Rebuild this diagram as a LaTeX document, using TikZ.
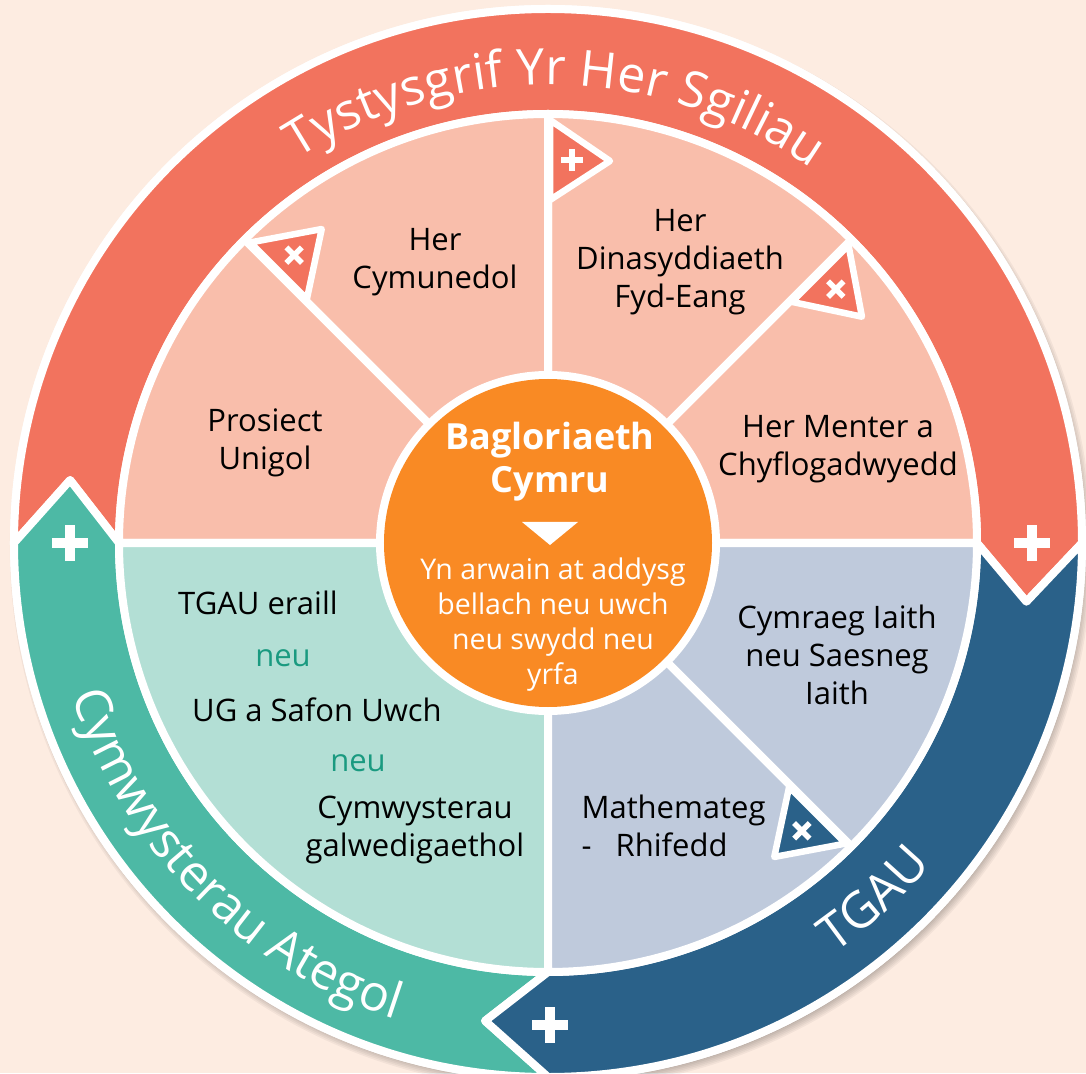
\documentclass[tikz,border=0pt]{standalone}
\usepackage{fontspec}
\setmainfont{Open Sans}
\usepackage{tikz}
\usetikzlibrary{decorations.text}
\definecolor{bgpeach}{RGB}{253,236,225}
\definecolor{bandcoral}{RGB}{242,115,94}
\definecolor{bandteal}{RGB}{77,185,165}
\definecolor{bandblue}{RGB}{42,97,137}
\definecolor{segcoral}{RGB}{249,190,171}
\definecolor{segteal}{RGB}{179,223,213}
\definecolor{segblue}{RGB}{191,202,220}
\definecolor{corange}{RGB}{249,138,36}
\definecolor{neuteal}{RGB}{26,154,128}

\begin{document}
\begin{tikzpicture}[x=1pt,y=1pt,line join=round,
  band/.style={draw=white,line width=8pt},
  seg/.style={draw=white,line width=8pt},
  flag/.style={draw=white,line width=6.5pt,line join=round},
  plusmark/.style={white,line width=10pt},
  lab/.style={font=\fontsize{31}{38}\selectfont,align=center,text=black},
  neu/.style={font=\fontsize{31}{38}\selectfont,text=neuteal},
  bandtext/.style={decorate,decoration={text along path,text align=center,text color=white,text={|\fontsize{50}{60}\selectfont|#1}}}]
\useasboundingbox (-548,-530) rectangle (538,543);
\fill[bgpeach] (-548,-530) rectangle (538,543);
\foreach \k in {0,...,7} \fill[black,opacity=0.045] (3,-5) circle ({530+\k*1.6});
\fill[white] (0,0) circle (538);
\draw[band,fill=bandcoral] (180:534) arc[start angle=180,end angle=0,radius=534] -- (-7:482) -- (0:429) arc[start angle=0,end angle=180,radius=429] -- (172.5:482) -- cycle;
\draw[band,fill=bandteal] (180:534) arc[start angle=180,end angle=270,radius=534] -- (262.5:482) -- (270:429) arc[start angle=270,end angle=180,radius=429] -- (172.5:482) -- cycle;
\draw[band,fill=bandblue] (270:534) arc[start angle=270,end angle=360,radius=534] -- (353:482) -- (360:429) arc[start angle=360,end angle=270,radius=429] -- (262.5:482) -- cycle;
\foreach \x/\y in {-478/0,484/0,2/-482}
  \draw[plusmark] (\x-18,\y) -- (\x+18,\y) (\x,\y-18) -- (\x,\y+18);
\path[bandtext={Tystysgrif Yr Her Sgiliau}] (149:458) arc[start angle=149,end angle=29,radius=458];
\path[bandtext={Cymwysterau Ategol}] (170:500) arc[start angle=170,end angle=280,radius=500];
\path[bandtext={TGAU}] (-80:500) arc[start angle=-80,end angle=-15,radius=500];
\foreach \a/\b/\c in {0/45/segcoral,45/90/segcoral,90/135/segcoral,135/180/segcoral,180/270/segteal,270/315/segblue,315/360/segblue}
  \draw[seg,fill=\c] (0,0) -- (\a:429) arc[start angle=\a,end angle=\b,radius=429] -- cycle;
\foreach \r/\c in {0/bandcoral,45/bandcoral,-45/bandcoral,-135/bandblue}{
  \begin{scope}[rotate=\r]
    \draw[flag,fill=\c] (2,423) -- (62,382) -- (2,343) -- cycle;
    \draw[white,line width=5.5pt] (13,383) -- (35,383) (24,372) -- (24,394);
  \end{scope}
}
\fill[white] (0,0) circle (172);
\fill[corange] (0,0) circle (164);
\node[font=\bfseries\fontsize{36}{43}\selectfont,text=white,align=center] (title) at (2,81) {Bagloriaeth\\Cymru};
\fill[white] (-26,21) -- (30,21) -- (2,-2) -- cycle;
\node[font=\fontsize{28.5}{35}\selectfont,text=white,align=center] (lead) at (5,-82) {Yn arwain at addysg\\bellach neu uwch\\neu swydd neu\\yrfa};
\node[lab] (prosiect) at (-283,100) {Prosiect\\Unigol};
\node[lab] (cymunedol) at (-113,281) {Her\\Cymunedol};
\node[lab] (dinasyddiaeth) at (132,281) {Her\\Dinasyddiaeth\\Fyd-Eang};
\node[lab] (menter) at (290,94) {Her Menter a\\Chyflogadwyedd};
\node[lab] (tgaueraill) at (-290,-60) {TGAU eraill};
\node[neu] (neua) at (-265,-115) {neu};
\node[lab] (ugsafon) at (-231,-167) {UG a Safon Uwch};
\node[neu] (neub) at (-190,-220) {neu};
\node[lab] (galwedigaethol) at (-133,-287) {Cymwysterau\\galwedigaethol};
\node[lab] (iaith) at (289,-112) {Cymraeg Iaith\\neu Saesneg\\Iaith};
\node[lab,anchor=west,align=left] (mathemateg) at (30,-283) {Mathemateg\\-\ \ \ Rhifedd};
\end{tikzpicture}
\end{document}
